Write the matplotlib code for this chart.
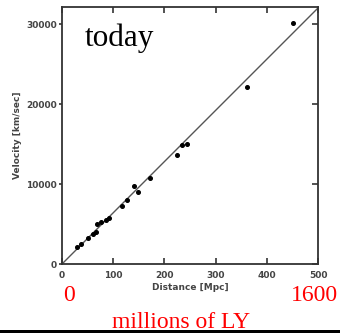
import matplotlib.pyplot as plt
from matplotlib.patches import Rectangle

# Hubble diagram data
distance = [29, 37, 51, 60, 67, 69, 77, 86, 91, 117, 127, 140, 149, 171,
            225, 235, 244, 362, 452]
velocity = [2125, 2560, 3190, 3750, 3940, 5060, 5190, 5500, 5810, 7310, 7940,
            9750, 8940, 10810, 13600, 14900, 15000, 22160, 30090]
fit_x = [0, 500]
fit_y = [0, 32000]

x_ticks = [0, 100, 200, 300, 400, 500]
y_ticks = [0, 10000, 20000, 30000]

fig = plt.figure(figsize=(3.4, 3.33), dpi=100)
ax = fig.add_axes([62 / 340, 1 - 264 / 333, 256 / 340, 257 / 333])

ax.plot(fit_x, fit_y, color="#555555", lw=1.0)
ax.plot(distance, velocity, "o", color="black", ms=2.6)

ax.set_xlim(0, 500)
ax.set_ylim(0, 32125)
ax.set_xticks(x_ticks)
ax.set_yticks(y_ticks)

tick_font = dict(fontsize=6.5, color="#444444", fontweight="bold")
ax.set_xticklabels([str(v) for v in x_ticks], **tick_font)
ax.set_yticklabels([str(v) for v in y_ticks], **tick_font)
ax.tick_params(axis="x", direction="in", length=4, width=1.2, color="#333333",
               pad=5, top=True)
ax.tick_params(axis="y", direction="out", length=2.5, width=1.2, color="#333333",
               pad=1)
ax.tick_params(axis="y", which="both", right=True)
for t in ax.yaxis.get_major_ticks():
    t.tick2line.set_marker(0)  # inward on the right side
    t.tick2line.set_markersize(4)
for s in ax.spines.values():
    s.set_color("#333333")
    s.set_linewidth(1.3)

ax.set_xlabel("Distance [Mpc]", fontsize=6.5, color="#444444", fontweight="bold",
              labelpad=2)
ax.set_ylabel("Velocity [km/sec]", fontsize=6.5, color="#444444", fontweight="bold",
              labelpad=3)

ax.text(0.09, 0.935, "today", transform=ax.transAxes, fontsize=22.5,
        family="Liberation Serif", color="black", va="top", ha="left")

red = dict(family="Liberation Serif", color="red", fontsize=17)
fig.text(68.5 / 340, 1 - 301 / 333, "0", ha="center", va="baseline", **red)
fig.text(314 / 340, 1 - 301 / 333, "1600", ha="center", va="baseline", **red)
fig.text(181 / 340, 1 - 328 / 333, "millions of LY", ha="center", va="baseline", **red)

fig.add_artist(Rectangle((0, 0), 1, 3 / 333, transform=fig.transFigure,
                         color="black", lw=0))

fig.savefig("out.png", dpi=100)
